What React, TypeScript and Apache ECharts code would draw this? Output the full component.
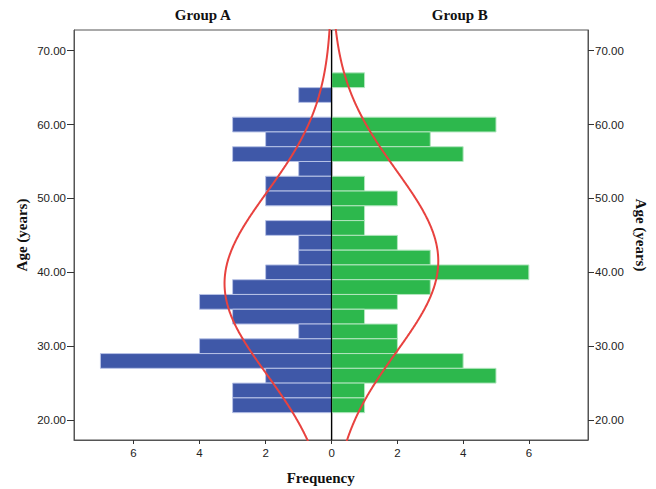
import React, { useEffect, useRef } from "react";
import * as echarts from "echarts";

// Age bin centres (2-year bins)
const ages = [66, 64, 62, 60, 58, 56, 54, 52, 50, 48, 46, 44, 42, 40, 38, 36, 34, 32, 30, 28, 26, 24, 22];
const groupA = [0, 1, 0, 3, 2, 3, 1, 2, 2, 0, 2, 1, 1, 2, 3, 4, 3, 1, 4, 7, 2, 3, 3];
const groupB = [1, 0, 0, 5, 3, 4, 0, 1, 2, 1, 1, 2, 3, 6, 3, 2, 1, 2, 2, 4, 5, 1, 1];
const binWidth = 2;
const yTicks = [20, 30, 40, 50, 60, 70];
const xTicksA = [0, 2, 4, 6];
const xTicksB = [2, 4, 6];
// Normal curve parameters
const nA = 50, meanA = 38.5, sdA = 12.3;
const nB = 50, meanB = 41.5, sdB = 12.3;
const yMin = 17.3, yMax = 72.8, xMax = 7.8;

function normalCurve(n: number, mean: number, sd: number) {
  const pts: number[][] = [];
  for (let a = 16; a <= 74; a += 0.25) {
    const v = (n * binWidth) / (sd * Math.sqrt(2 * Math.PI)) * Math.exp(-((a - mean) ** 2) / (2 * sd * sd));
    pts.push([v, a]);
  }
  return pts;
}

export default function App() {
  const ref = useRef<HTMLDivElement>(null);
  useEffect(() => {
    document.body.style.margin = "0";
    const chart = echarts.init(ref.current!, null, { renderer: "svg" });
    const barRender = (fill: string, stroke: string) => (params: any, api: any) => {
      const count = api.value(0);
      const age = api.value(1);
      if (!count) return null;
      const p0 = api.coord([0, age - binWidth / 2]);
      const p1 = api.coord([count, age + binWidth / 2]);
      return {
        type: "rect",
        shape: {
          x: Math.min(p0[0], p1[0]),
          y: Math.min(p0[1], p1[1]),
          width: Math.abs(p1[0] - p0[0]),
          height: Math.abs(p1[1] - p0[1]),
        },
        style: { fill, stroke, lineWidth: 1 },
      };
    };
    const tickLabelStyle = { fontFamily: "Liberation Sans, Arial, sans-serif", fontSize: 11.5, color: "#222" };
    const nameStyle = { fontFamily: "Liberation Serif, Times New Roman, serif", fontSize: 15, fontWeight: "bold" as const, color: "#111" };
    const axisLineStyle = { onZero: false, lineStyle: { color: "#555", width: 1 } };
    const option: any = {
      animation: false,
      backgroundColor: "#fff",
      grid: [
        { left: 74, top: 30, width: 257.7, height: 410, show: true, borderColor: "#555", borderWidth: 1 },
        { left: 331.7, top: 30, width: 256.3, height: 410, show: true, borderColor: "#555", borderWidth: 1 },
      ],
      xAxis: [
        {
          gridIndex: 0, type: "value", min: 0, max: xMax, inverse: true, position: "bottom",
          axisLine: axisLineStyle, splitLine: { show: false },
          axisTick: { show: true, length: 4, customValues: xTicksA, lineStyle: { color: "#333" } },
          axisLabel: { ...tickLabelStyle, customValues: xTicksA, margin: 7 },
        },
        {
          gridIndex: 1, type: "value", min: 0, max: xMax, position: "bottom",
          axisLine: axisLineStyle, splitLine: { show: false },
          axisTick: { show: true, length: 4, customValues: xTicksB, lineStyle: { color: "#333" } },
          axisLabel: { ...tickLabelStyle, customValues: xTicksB, margin: 7 },
        },
        {
          gridIndex: 0, type: "value", min: 0, max: xMax, inverse: true, position: "top",
          axisLine: { show: false, onZero: false }, axisTick: { show: false }, axisLabel: { show: false }, splitLine: { show: false },
          name: "Group A", nameLocation: "middle", nameGap: 8, nameTextStyle: nameStyle,
        },
        {
          gridIndex: 1, type: "value", min: 0, max: xMax, position: "top",
          axisLine: { show: false, onZero: false }, axisTick: { show: false }, axisLabel: { show: false }, splitLine: { show: false },
          name: "Group B", nameLocation: "middle", nameGap: 8, nameTextStyle: nameStyle,
        },
      ],
      yAxis: [
        {
          gridIndex: 0, type: "value", min: yMin, max: yMax, position: "left",
          axisLine: axisLineStyle, splitLine: { show: false },
          axisTick: { show: true, length: 7, customValues: yTicks, lineStyle: { color: "#333" } },
          axisLabel: { ...tickLabelStyle, customValues: yTicks, margin: 8, formatter: (v: number) => v.toFixed(2) },
          name: "Age (years)", nameLocation: "middle", nameRotate: 90, nameGap: 45, nameTextStyle: nameStyle,
        },
        {
          gridIndex: 1, type: "value", min: yMin, max: yMax, position: "right",
          axisLine: axisLineStyle, splitLine: { show: false },
          axisTick: { show: true, length: 6, customValues: yTicks, lineStyle: { color: "#333" } },
          axisLabel: { ...tickLabelStyle, customValues: yTicks, margin: 7, formatter: (v: number) => v.toFixed(2) },
          name: "Age (years)", nameLocation: "middle", nameRotate: -90, nameGap: 45, nameTextStyle: nameStyle,
        },
      ],
      series: [
        {
          type: "custom", xAxisIndex: 0, yAxisIndex: 0, z: 2,
          renderItem: barRender("#3F58A8", "#b7c2e6"),
          encode: { x: 0, y: 1 },
          data: ages.map((a, i) => [groupA[i], a]),
        },
        {
          type: "custom", xAxisIndex: 1, yAxisIndex: 1, z: 2,
          renderItem: barRender("#2DB84D", "#b3e6bf"),
          encode: { x: 0, y: 1 },
          data: ages.map((a, i) => [groupB[i], a]),
        },
        {
          type: "line", xAxisIndex: 0, yAxisIndex: 0, z: 3, smooth: true, showSymbol: false, symbol: "none",
          lineStyle: { color: "#E8423F", width: 2 }, clip: true,
          data: normalCurve(nA, meanA, sdA),
        },
        {
          type: "line", xAxisIndex: 1, yAxisIndex: 1, z: 3, smooth: true, showSymbol: false, symbol: "none",
          lineStyle: { color: "#E8423F", width: 2 }, clip: true,
          data: normalCurve(nB, meanB, sdB),
          markLine: {
            silent: true, symbol: "none", label: { show: false }, z: 5,
            lineStyle: { color: "#000", width: 1.2, type: "solid" },
            data: [{ xAxis: 0 }],
          },
        },
      ],
      graphic: [
        {
          type: "text", left: 331.7 - 45, top: 470,
          style: { text: "Frequency", x: 0, y: 0, width: 90, align: "center", font: "bold 15px 'Liberation Serif', serif", fill: "#111" },
        },
      ],
    };
    chart.setOption(option);
    return () => chart.dispose();
  }, []);
  return <div ref={ref} style={{ width: 656, height: 489 }} />;
}
